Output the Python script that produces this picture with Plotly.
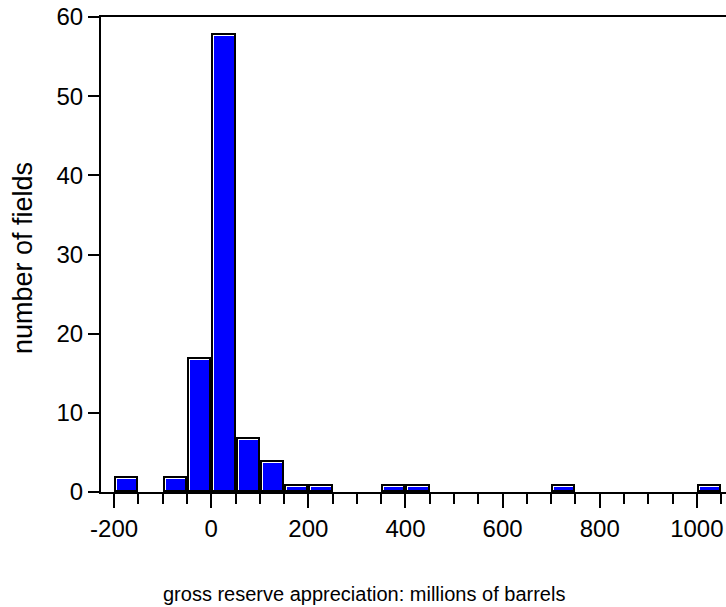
import plotly.graph_objects as go

# Histogram of gross reserve appreciation, bins of 50 million barrels
bin_left = [-200, -100, -50, 0, 50, 100, 150, 200, 350, 400, 700, 1000]
counts = [2, 2, 17, 58, 7, 4, 1, 1, 1, 1, 1, 1]
bin_width = 50

major_ticks = [-200, 0, 200, 400, 600, 800, 1000]
major_labels = ["-200", "0", "200", "400", "600", "800", "1000"]
y_ticks = [0, 10, 20, 30, 40, 50, 60]

W, H = 726, 607
M_L, M_R, M_T, M_B = 101, 0, 17, 115
X_RANGE = [-227, 1060]
Y_RANGE = [0, 60]

plot_w = W - M_L - M_R
plot_h = H - M_T - M_B
px_x = (X_RANGE[1] - X_RANGE[0]) / plot_w   # data units per pixel
px_y = (Y_RANGE[1] - Y_RANGE[0]) / plot_h

centers = [b + bin_width / 2 for b in bin_left]
FONT = "Liberation Sans, Arial, sans-serif"

fig = go.Figure()

# outer black frame of each bar
fig.add_trace(go.Bar(
    x=centers, y=counts, width=[bin_width] * len(counts),
    marker=dict(color="black", line=dict(width=0)),
    hoverinfo="skip", showlegend=False,
))
# white bevel on the left and top edges
fig.add_trace(go.Bar(
    x=centers, y=[c - 4 * px_y for c in counts], base=[2 * px_y] * len(counts),
    offset=[-bin_width / 2 + 2 * px_x] * len(counts),
    width=[bin_width - 4 * px_x] * len(counts),
    marker=dict(color="white", line=dict(width=0)),
    hoverinfo="skip", showlegend=False,
))
# blue fill
fig.add_trace(go.Bar(
    x=centers, y=[c - 5 * px_y for c in counts], base=[2 * px_y] * len(counts),
    offset=[-bin_width / 2 + 3 * px_x] * len(counts),
    width=[bin_width - 5 * px_x] * len(counts),
    marker=dict(color="#0000ff", line=dict(width=0)),
    hovertemplate="%{x}: %{y}<extra></extra>", showlegend=False,
))

fig.update_layout(
    width=W, height=H,
    margin=dict(l=M_L, r=M_R, t=M_T, b=M_B, pad=0),
    paper_bgcolor="white", plot_bgcolor="white",
    barmode="overlay", bargap=0,
    font=dict(family=FONT, size=24, color="black"),
    xaxis=dict(
        range=X_RANGE, showgrid=False, zeroline=False,
        showline=True, linecolor="black", linewidth=2, mirror=True,
        tickmode="array", tickvals=major_ticks, ticktext=major_labels,
        ticks="outside", ticklen=14, tickwidth=2, tickcolor="black",
        tickfont=dict(family=FONT, size=24),
        minor=dict(tickmode="linear", tick0=0, dtick=50, ticks="outside",
                   ticklen=10, tickwidth=2, tickcolor="black", showgrid=False),
    ),
    yaxis=dict(
        range=Y_RANGE, showgrid=False, zeroline=False,
        showline=True, linecolor="black", linewidth=2,
        tickmode="array", tickvals=y_ticks,
        ticks="outside", ticklen=11, tickwidth=2, tickcolor="black",
        tickfont=dict(family=FONT, size=24),
    ),
    annotations=[
        dict(text="gross reserve appreciation: millions of barrels",
             xref="paper", yref="paper", x=(364 - M_L) / plot_w,
             y=-(594 - (H - M_B)) / plot_h, xanchor="center", yanchor="middle",
             showarrow=False, font=dict(family=FONT, size=20)),
        dict(text="number of fields",
             xref="paper", yref="paper", x=(23 - M_L) / plot_w,
             y=((H - M_B) - 258) / plot_h, xanchor="center", yanchor="middle",
             textangle=-90, showarrow=False, font=dict(family=FONT, size=27)),
    ],
)

fig.write_html("out.html")
